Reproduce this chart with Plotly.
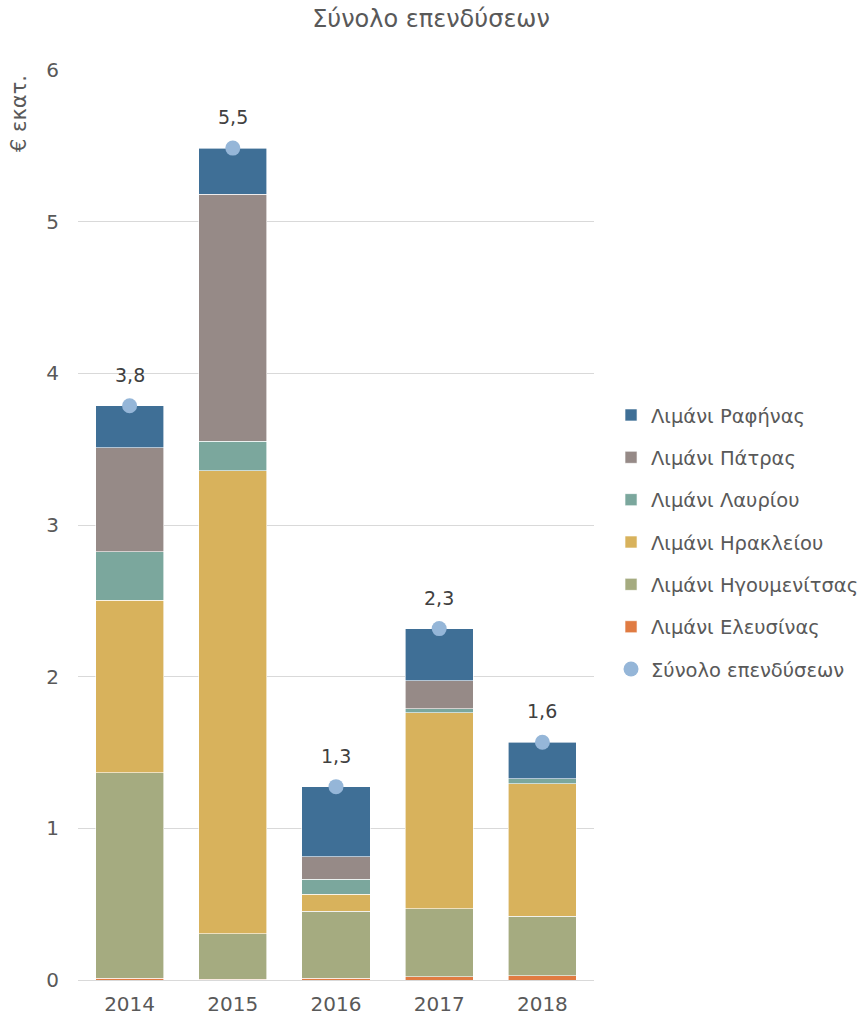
import plotly.graph_objects as go

years = ["2014", "2015", "2016", "2017", "2018"]

# Investment per port, € million (stacked bottom to top)
elefsina = [0.010, 0.004, 0.013, 0.020, 0.029]
igoumenitsa = [1.355, 0.300, 0.439, 0.451, 0.392]
irakleio = [1.139, 3.053, 0.114, 1.291, 0.872]
lavrio = [0.320, 0.195, 0.099, 0.027, 0.035]
patra = [0.685, 1.630, 0.148, 0.185, 0.000]
rafina = [0.277, 0.303, 0.462, 0.343, 0.240]

series = [
    ("Λιμάνι Ελευσίνας", elefsina, "#E07B42", 6),
    ("Λιμάνι Ηγουμενίτσας", igoumenitsa, "#A5AB80", 5),
    ("Λιμάνι Ηρακλείου", irakleio, "#D8B25C", 4),
    ("Λιμάνι Λαυρίου", lavrio, "#7BA79D", 3),
    ("Λιμάνι Πάτρας", patra, "#968A87", 2),
    ("Λιμάνι Ραφήνας", rafina, "#3F6F96", 1),
]

totals = [sum(v) for v in zip(elefsina, igoumenitsa, irakleio, lavrio, patra, rafina)]

FONT = "DejaVu Sans"
GREY = "#595959"

fig = go.Figure()
for name, vals, color, rank in series:
    fig.add_trace(go.Bar(
        x=years, y=vals, name=name,
        marker=dict(color=color, line=dict(color="white", width=0.6)),
        legendrank=rank, legendgroup=name,
    ))

fig.add_trace(go.Scatter(
    x=years, y=totals, name="Σύνολο επενδύσεων",
    mode="markers",
    marker=dict(color="#95B6D8", size=15),
    legendrank=7, legendgroup="total",
))

# Value labels above each total marker (x given as category index)
for i, tot in enumerate(totals):
    fig.add_annotation(x=i, y=tot, text=f"{tot:.1f}".replace(".", ","),
                       showarrow=False, yshift=31, yanchor="middle",
                       font=dict(size=19, color="#404040", family=FONT))

fig.update_layout(
    width=862, height=1020,
    margin=dict(l=78, r=268, t=70, b=40, autoexpand=False),
    paper_bgcolor="white", plot_bgcolor="white",
    barmode="stack", bargap=0.34,
    font=dict(family=FONT, color=GREY, size=19),
    title=dict(text="Σύνολο επενδύσεων", x=0.5, xref="container", xanchor="center",
               y=0.982, yanchor="middle",
               font=dict(size=24, color=GREY, family=FONT)),
    legend=dict(x=1.033, xanchor="left", y=0.642, yanchor="top",
                traceorder="grouped", tracegroupgap=14,
                font=dict(size=19.5, color=GREY, family=FONT),
                itemwidth=30),
    showlegend=True,
)

fig.update_yaxes(range=[0, 6], dtick=1, showgrid=True, gridcolor="#D9D9D9",
                 gridwidth=1.3, zeroline=True, zerolinecolor="#D9D9D9",
                 zerolinewidth=1.3, ticks="", ticklabelstandoff=18,
                 automargin=False, tickfont=dict(size=20, color=GREY))
fig.update_xaxes(type="category", range=[-0.5, len(years) - 0.5], showgrid=False,
                 ticks="", ticklabelstandoff=10, automargin=False,
                 tickfont=dict(size=20, color=GREY), showline=False)

fig.add_annotation(text="€ εκατ.", textangle=-90, xref="paper", yref="paper",
                   x=-0.113, y=0.997, xanchor="center", yanchor="top",
                   showarrow=False, font=dict(size=21, color=GREY, family=FONT))

fig.write_html("out.html")
